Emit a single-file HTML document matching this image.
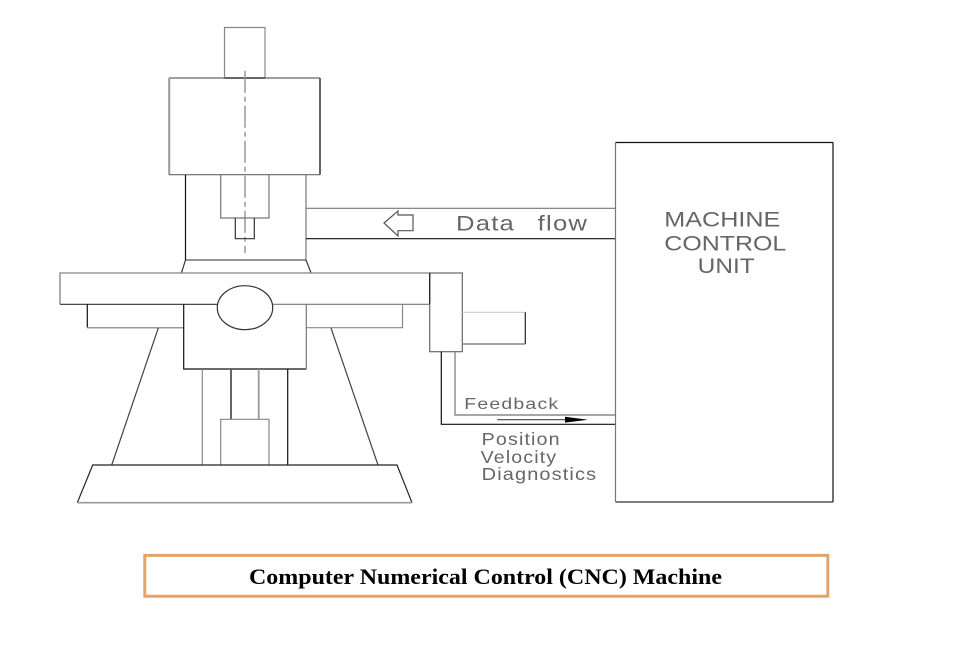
<!DOCTYPE html>
<html>
<head>
<meta charset="utf-8">
<style>
html,body{margin:0;padding:0;background:#fff;}
svg{display:block;}
.t{font-family:"Liberation Sans",sans-serif;fill:#666;font-weight:normal;}
</style>
</head>
<body>
<svg width="972" height="648" viewBox="0 0 972 648" xmlns="http://www.w3.org/2000/svg">
<rect width="972" height="648" fill="#fff"/>
<g fill="none" stroke-width="1.2">
  <!-- motor -->
  <path d="M224.5 78V27.5H265V78" stroke="#888"/>
  <path d="M169 78H320" stroke="#666"/>
  <path d="M224.5 78H265" stroke="#222"/>
  <path d="M169.2 78V174.7" stroke="#999" stroke-width="2"/>
  <path d="M320 78V174.7" stroke="#666" stroke-width="2"/>
  <path d="M169 174.7H320" stroke="#666"/>
  <!-- centre line -->
  <path d="M245 70.7V253" stroke="#999" stroke-dasharray="22 4 5 4" stroke-width="1.5"/>
  <!-- column -->
  <path d="M185.5 175V260" stroke="#111"/>
  <path d="M306 175V260" stroke="#777"/>
  <path d="M185.5 260H306" stroke="#555"/>
  <path d="M185.5 260L181.5 272.7" stroke="#333"/>
  <path d="M306 260L311 272.7" stroke="#333"/>
  <path d="M220.7 175V218H269V175" stroke="#777"/>
  <path d="M235.3 218V238.7H254.3V218" stroke="#333"/>
  <!-- data flow lines -->
  <path d="M306 208.3H615" stroke="#777"/>
  <path d="M306 238.7H615" stroke="#111"/>
  <path d="M384 223L398 211V215H413V230.7H398V236Z" stroke="#555"/>
  <!-- table -->
  <path d="M60 304.3V273H430" stroke="#999" stroke-width="1.6"/>
  <path d="M60 304.3H217" stroke="#333"/>
  <path d="M273 304.3H430" stroke="#777"/>
  <path d="M87.3 304.3V327.7" stroke="#111"/>
  <path d="M87.3 327.7H183.7" stroke="#999" stroke-width="1.5"/>
  <path d="M306.3 327.7H402.5V304.3" stroke="#888"/>
  <!-- saddle -->
  <path d="M183.7 304.3V369H306.3" stroke="#111"/>
  <path d="M306.3 304.3V369" stroke="#777"/>
  <ellipse cx="245" cy="307.7" rx="27.7" ry="22" fill="#fff" stroke="#333"/>
  <!-- legs -->
  <path d="M158.3 328L111.7 465" stroke="#444"/>
  <path d="M331 328L378 465" stroke="#444"/>
  <!-- pillars -->
  <path d="M202.3 369V465" stroke="#888"/>
  <path d="M287.7 369V465" stroke="#111"/>
  <path d="M231 369V419.3" stroke="#555" stroke-width="1.8"/>
  <path d="M258.7 369V419.3" stroke="#999" stroke-width="1.8"/>
  <path d="M220.7 465V419.3H269V465" stroke="#888"/>
  <!-- base -->
  <path d="M77.3 502.7L92.7 465H397L412 502.7" stroke="#222"/>
  <path d="M77.3 502.7H412" stroke="#999" stroke-width="1.6"/>
  <!-- servo -->
  <rect x="429.7" y="273" width="32.6" height="78.7" fill="#fff" stroke="#666"/>
  <path d="M429.7 273V304" stroke="#222"/>
  <path d="M462.3 312.3H525.3" stroke="#ccc"/>
  <path d="M525.3 312.3V344" stroke="#222"/>
  <path d="M462.3 344H525.3" stroke="#888" stroke-width="1.5"/>
  <!-- feedback lines -->
  <path d="M441.3 351.7V424.3H615" stroke="#111"/>
  <path d="M455 351.7V415H615" stroke="#888" stroke-width="1.4"/>
  <path d="M497.3 419.7H566" stroke="#444"/>
  <!-- MCU -->
  <path d="M615.5 142.5H833" stroke="#111"/>
  <path d="M833 142.5V502" stroke="#111"/>
  <path d="M615.5 502H833" stroke="#333"/>
  <path d="M615.5 142.5V502" stroke="#777"/>
</g>
<path d="M565 416.8L588 419.7L565 422.6Z" fill="#000"/>
<text class="t" x="456" y="230.3" font-size="21" textLength="59" lengthAdjust="spacingAndGlyphs" letter-spacing="1">Data</text>
<text class="t" x="537.7" y="230.3" font-size="21" textLength="50.5" lengthAdjust="spacingAndGlyphs" letter-spacing="1">flow</text>
<text class="t" x="664.3" y="226.7" font-size="21" textLength="116" lengthAdjust="spacingAndGlyphs">MACHINE</text>
<text class="t" x="664.3" y="250.7" font-size="21" textLength="122" lengthAdjust="spacingAndGlyphs">CONTROL</text>
<text class="t" x="697.7" y="273" font-size="21" textLength="57" lengthAdjust="spacingAndGlyphs">UNIT</text>
<text class="t" x="464.3" y="409" font-size="16" textLength="95" lengthAdjust="spacingAndGlyphs" letter-spacing="1">Feedback</text>
<text class="t" x="481.7" y="445" font-size="17.5" textLength="79" lengthAdjust="spacingAndGlyphs" letter-spacing="1">Position</text>
<text class="t" x="480.7" y="463" font-size="17.5" textLength="76.5" lengthAdjust="spacingAndGlyphs" letter-spacing="1">Velocity</text>
<text class="t" x="481.7" y="480" font-size="17.5" textLength="115.5" lengthAdjust="spacingAndGlyphs" letter-spacing="1">Diagnostics</text>
<rect x="144.8" y="555.4" width="683" height="40.8" fill="#fff" stroke="#e2a468" stroke-width="3"/>
<text x="249" y="584" font-family="'Liberation Serif',serif" font-weight="bold" font-size="22.5" fill="#000" textLength="473" lengthAdjust="spacingAndGlyphs">Computer Numerical Control (CNC) Machine</text>
</svg>
</body>
</html>
